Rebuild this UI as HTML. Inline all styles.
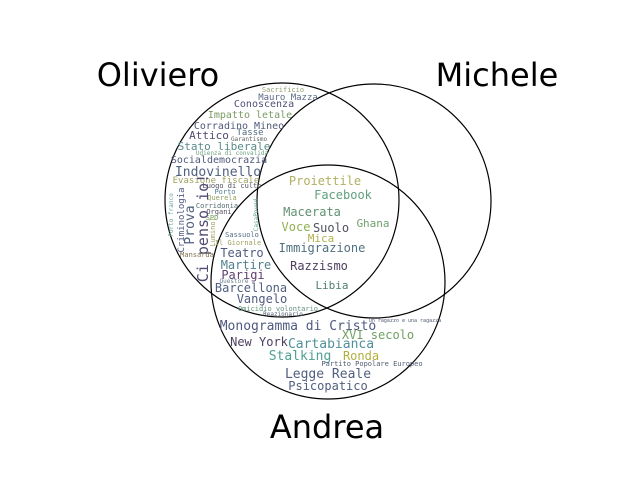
<!DOCTYPE html>
<html><head><meta charset="utf-8"><style>
html,body{margin:0;padding:0;background:#fff;width:640px;height:480px;overflow:hidden}
svg text{font-family:"DejaVu Sans Mono","Liberation Mono",monospace;text-anchor:middle}
.t{font-family:"DejaVu Sans","Liberation Sans",sans-serif;font-size:32px;fill:#000}
</style></head><body>
<svg width="640" height="480" viewBox="0 0 640 480" xmlns="http://www.w3.org/2000/svg">
<g fill="none" stroke="#000" stroke-width="1.2">
<circle cx="282" cy="200" r="117"/>
<circle cx="374" cy="201" r="117"/>
<circle cx="328" cy="282" r="117"/>
</g>
<text class="t" x="158" y="86">Oliviero</text>
<text class="t" x="497" y="86">Michele</text>
<text class="t" x="327" y="438">Andrea</text>
<g>
<text x="283" y="92" font-size="7" fill="#90a070">Sacrificio</text>
<text x="288" y="100" font-size="9" fill="#5a6a8a">Mauro Mazza</text>
<text x="264" y="107" font-size="10" fill="#50507a">Conoscenza</text>
<text x="250" y="118" font-size="10" fill="#7a9a60">Impatto letale</text>
<text x="239" y="129" font-size="10" fill="#505a7a">Corradino Mineo</text>
<text x="209" y="139" font-size="11" fill="#504a70">Attico</text>
<text x="250" y="135" font-size="9" fill="#506a80">Tasse</text>
<text x="249" y="141" font-size="6" fill="#606060">Garantismo</text>
<text x="224" y="150" font-size="11" fill="#5a8a8a">Stato liberale</text>
<text x="232" y="155" font-size="6" fill="#70a080">Udienza di convalida</text>
<text x="219" y="163" font-size="10" fill="#505a7a">Socialdemocrazia</text>
<text x="218" y="176" font-size="13" fill="#506080">Indovinello</text>
<text x="216" y="183" font-size="9" fill="#a0a060">Evasione fiscale</text>
<text x="232" y="188" font-size="7" fill="#505060">Luogo di culto</text>
<text x="225" y="194" font-size="7" fill="#508090">Porto</text>
<text x="222" y="200" font-size="7" fill="#90a060">Querela</text>
<text x="217" y="208" font-size="7" fill="#506a70">Corridonia</text>
<text x="219" y="214" font-size="7" fill="#505060">Organi</text>
<text x="212" y="220" font-size="7" fill="#70a060">SPD</text>
<text transform="translate(194,225) rotate(-90)" font-size="13" fill="#506080">Prova</text>
<text transform="translate(208,228) rotate(-90)" font-size="15" fill="#504a70">Ci penso io!</text>
<text transform="translate(184,220) rotate(-90)" font-size="9" fill="#505a80">Criminologia</text>
<text transform="translate(173,215) rotate(-90)" font-size="6" fill="#70a0a0">Porto franco</text>
<text transform="translate(215,232) rotate(-90)" font-size="7" fill="#a0a060">Luminol</text>
<text transform="translate(258,215) rotate(-90)" font-size="6" fill="#60a090">CasaPound</text>
<text x="197" y="257" font-size="7" fill="#807050">Mansarda</text>
<text x="325" y="185" font-size="12" fill="#b0b060">Proiettile</text>
<text x="343" y="199" font-size="12" fill="#60a080">Facebook</text>
<text x="312" y="216" font-size="12" fill="#609070">Macerata</text>
<text x="296" y="231" font-size="12" fill="#90b050">Voce</text>
<text x="331" y="232" font-size="12" fill="#505060">Suolo</text>
<text x="373" y="227" font-size="11" fill="#70a070">Ghana</text>
<text x="321" y="242" font-size="11" fill="#b0b050">Mica</text>
<text x="322" y="252" font-size="12" fill="#507080">Immigrazione</text>
<text x="319" y="270" font-size="12" fill="#504060">Razzismo</text>
<text x="332" y="289" font-size="11" fill="#508070">Libia</text>
<text x="242" y="237" font-size="7" fill="#506a80">Sassuolo</text>
<text x="238" y="245" font-size="7" fill="#a0a060">Il Giornale</text>
<text x="242" y="257" font-size="12" fill="#505a80">Teatro</text>
<text x="246" y="269" font-size="12" fill="#508090">Martire</text>
<text x="243" y="279" font-size="12" fill="#604070">Parigi</text>
<text x="234" y="283" font-size="6" fill="#708090">Questore</text>
<text x="251" y="292" font-size="12" fill="#506080">Barcellona</text>
<text x="262" y="303" font-size="12" fill="#505a80">Vangelo</text>
<text x="278" y="311" font-size="7" fill="#60907a">Omicidio volontario</text>
<text x="283" y="316" font-size="6" fill="#505a70">Reazionario</text>
<text x="298" y="330" font-size="13" fill="#505a80">Monogramma di Cristo</text>
<text x="378" y="339" font-size="12" fill="#70a060">XVI secolo</text>
<text x="405" y="322" font-size="5" fill="#505a70">Un ragazzo e una ragazza</text>
<text x="259" y="346" font-size="12" fill="#504060">New York</text>
<text x="331" y="348" font-size="13" fill="#50909a">Cartabianca</text>
<text x="300" y="360" font-size="13" fill="#50a090">Stalking</text>
<text x="361" y="360" font-size="12" fill="#b0b040">Ronda</text>
<text x="372" y="366" font-size="7" fill="#505a70">Partito Popolare Europeo</text>
<text x="328" y="378" font-size="13" fill="#506080">Legge Reale</text>
<text x="328" y="390" font-size="12" fill="#506080">Psicopatico</text>
</g>
</svg>
</body></html>
